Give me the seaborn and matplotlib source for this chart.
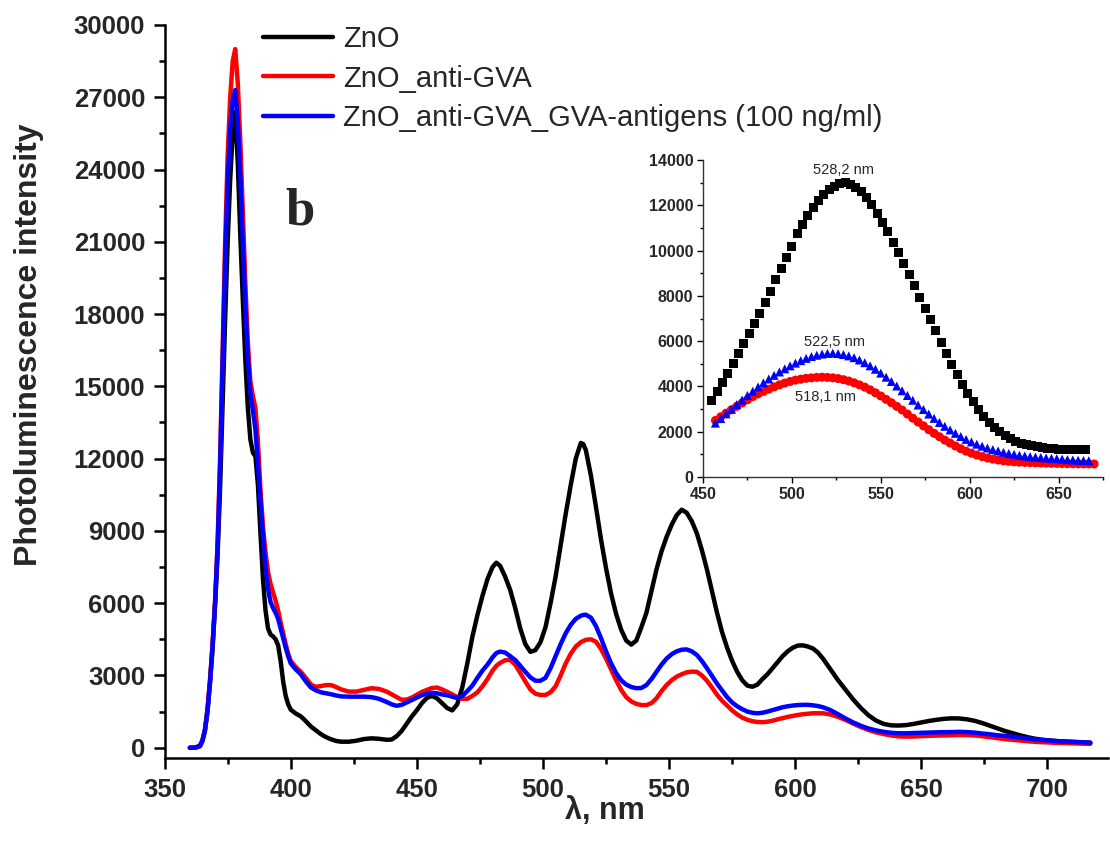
import numpy as np
import pandas as pd
import matplotlib
matplotlib.use("Agg")
import matplotlib.pyplot as plt
from matplotlib.ticker import MultipleLocator
import seaborn as sns

# ---- main spectra (wavelength grid, nm) ----
nm_grid = np.concatenate([
    [360, 362, 364, 365, 366, 367, 368, 369, 370, 371],
    np.arange(372, 400, 1),
    np.arange(400, 421, 2),
    np.arange(423, 439, 3),
    np.arange(440, 481, 2),
    [481.5, 483],
    np.arange(485, 514, 2),
    [515, 516, 517],
    np.arange(519, 612, 2),
    np.arange(614, 714, 3),
    [717],
])

zno = [0, 0, 60, 280, 720, 1500, 2700, 4100, 5900, 8000,
       10800, 14300, 17800, 21000, 23600, 25500, 26400, 24300, 21300, 18600,
       16100, 14100, 12800, 12250, 12100, 10900, 8900, 7000, 5700, 4950,
       4700, 4620, 4500, 4250, 3600, 2750, 2150, 1800,
       1580, 1420, 1300, 1100, 880, 720, 560, 440, 350, 280, 250,
       250, 290, 360, 390, 370, 330,
       340, 480, 700, 1000, 1300, 1560, 1850, 2070, 2150, 2050, 1850, 1650, 1550,
       1800, 2500, 3500, 4600, 5500, 6300, 7000, 7500,
       7680, 7550,
       7100, 6550, 5800, 4950, 4300, 3980, 4050, 4380, 5000, 6000, 7100, 8400,
       9700, 10900, 12000,
       12650, 12600, 12350,
       11300, 10000, 8650, 7450, 6400, 5550, 4900, 4450, 4280, 4450,
       5000, 5600, 6500, 7400, 8150, 8750, 9250, 9650, 9880, 9750,
       9400, 8900, 8200, 7400, 6500, 5600, 4800, 4150, 3600, 3150,
       2800, 2580, 2530, 2620, 2850, 3050, 3300, 3550, 3800, 4000,
       4150, 4240, 4250, 4200, 4120, 3950, 3700,
       3250, 2800, 2400, 2000, 1650, 1350, 1130, 990, 930, 920, 940, 990,
       1050, 1110, 1160, 1200, 1220, 1215, 1180, 1120, 1030, 920, 810, 700,
       610, 520, 440, 375, 330, 295, 275, 260, 248, 230,
       210]

zno_anti = [0, 0, 80, 300, 750, 1600, 2800, 4300, 6100, 8500,
            12000, 16500, 21000, 24600, 27000, 28500, 29000, 27600, 25200, 22300,
            19300, 16800, 15200, 14600, 14100, 12700, 10700, 9200, 8100, 7300,
            6800, 6450, 6100, 5700, 5200, 4750, 4300, 3900,
            3600, 3350, 3150, 2900, 2620, 2530, 2560, 2600, 2600, 2520, 2420,
            2330, 2330, 2400, 2470, 2440, 2330,
            2220, 2100, 1990, 2000, 2080, 2200, 2320, 2400, 2480, 2500, 2420,
            2320, 2220, 2100, 2030, 2030, 2150, 2300, 2550, 2850, 3200,
            3400, 3520,
            3630, 3650, 3450, 3100, 2750, 2420, 2240, 2190, 2190, 2300, 2550,
            3000, 3500, 3900, 4200,
            4380, 4430, 4480,
            4500, 4400, 4100, 3700, 3250, 2800, 2400, 2100, 1920, 1820,
            1770, 1770, 1850, 2050, 2350, 2600, 2800, 2950, 3050, 3130,
            3160, 3150, 3000, 2780, 2500, 2200, 1950, 1750, 1550, 1380,
            1250, 1160, 1100, 1070, 1060, 1080, 1120, 1180, 1230, 1280,
            1320, 1360, 1390, 1410, 1430, 1430, 1430,
            1380, 1280, 1150, 1000, 860, 740, 640, 570, 510, 470, 460, 465,
            480, 495, 505, 510, 520, 530, 525, 510, 480, 440, 400, 360,
            330, 300, 270, 245, 230, 215, 200, 190, 180, 170,
            160]

zno_gva = [0, 0, 80, 300, 740, 1550, 2750, 4200, 6000, 8300,
           11700, 16000, 20300, 23500, 25700, 26900, 27300, 26000, 23800, 21000,
           18400, 16200, 14700, 14000, 13200, 11800, 10200, 8800, 7500, 6600,
           6050, 5800, 5600, 5350, 4950, 4550, 4150, 3800,
           3500, 3250, 3050, 2750, 2500, 2380, 2300, 2260, 2220, 2170, 2130,
           2120, 2120, 2120, 2100, 2030, 1900,
           1800, 1740, 1780, 1880, 1980, 2080, 2180, 2250, 2280, 2260, 2210,
           2180, 2120, 2060, 2150, 2350, 2580, 2900, 3200, 3450, 3750,
           3930, 3990,
           3950, 3800, 3640, 3400, 3150, 2920, 2780, 2780, 2900, 3300, 3800,
           4300, 4750, 5100, 5350,
           5480, 5510, 5520,
           5400, 5050, 4550, 4000, 3500, 3100, 2800, 2620, 2520, 2470,
           2480, 2600, 2850, 3150, 3450, 3700, 3880, 4000, 4070, 4080,
           4000, 3850, 3600, 3300, 2980, 2660, 2380, 2100, 1880, 1720,
           1600, 1500, 1450, 1430, 1450, 1500, 1560, 1620, 1680, 1720,
           1750, 1770, 1780, 1780, 1760, 1730, 1680,
           1560, 1390, 1210, 1050, 910, 800, 720, 660, 620, 600, 600, 610,
           620, 630, 640, 645, 650, 660, 650, 630, 590, 560, 520, 490,
           460, 420, 380, 350, 320, 300, 270, 250, 240, 225,
           210]

# ---- inset: fitted green band ----
inset_nm_zno = np.arange(455, 666, 3)
inset_zno = [3370, 3760, 4160, 4580, 5010, 5450, 5890, 6330, 6780, 7240,
             7720, 8210, 8710, 9210, 9710, 10200, 10740, 11170, 11560, 11900,
             12200, 12460, 12680, 12850, 12960, 12990, 12930, 12800, 12600, 12340,
             12020, 11660, 11260, 10830, 10380, 9910, 9430, 8940, 8440, 7940,
             7440, 6940, 6450, 5960, 5450, 4980, 4520, 4090, 3690, 3320,
             2990, 2690, 2420, 2190, 1990, 1830, 1700, 1590, 1500, 1430,
             1370, 1330, 1290, 1265, 1250, 1235, 1225, 1215, 1205, 1200,
             1195]

inset_nm_anti = np.arange(457, 671, 3)
inset_anti = [2500, 2660, 2820, 2970, 3120, 3270, 3410, 3550, 3670, 3780,
              3880, 3980, 4070, 4150, 4220, 4280, 4320, 4360, 4380, 4400,
              4410, 4400, 4380, 4350, 4300, 4240, 4160, 4070, 3970, 3850,
              3720, 3580, 3430, 3280, 3120, 2960, 2780, 2600, 2430, 2260,
              2090, 1930, 1780, 1630, 1500, 1370, 1250, 1140, 1050, 970,
              900, 840, 790, 750, 715, 690, 670, 655, 645, 635,
              625, 618, 612, 606, 600, 595, 590, 586, 582, 579,
              577, 575]

inset_nm_gva = np.arange(457, 668, 3)
inset_gva = [2380, 2580, 2790, 2990, 3200, 3400, 3600, 3790, 3980, 4160,
             4330, 4490, 4640, 4780, 4910, 5030, 5140, 5240, 5320, 5380,
             5430, 5460, 5470, 5450, 5410, 5350, 5270, 5170, 5050, 4910,
             4760, 4590, 4410, 4220, 4020, 3810, 3600, 3390, 3180, 2980,
             2780, 2590, 2410, 2240, 2080, 1930, 1790, 1660, 1550, 1450,
             1360, 1280, 1210, 1150, 1090, 1040, 1000, 960, 930, 900,
             880, 860, 840, 825, 810, 790, 770, 755, 740, 730,
             720]

labels = ['ZnO', 'ZnO_anti-GVA', 'ZnO_anti-GVA_GVA-antigens (100 ng/ml)']
colors = ['#000000', '#ff0000', '#0000ff']
peak_labels = ['528,2 nm', '518,1 nm', '522,5 nm']

sns.set_theme(style='ticks')
plt.rcParams['font.family'] = ['Liberation Sans', 'DejaVu Sans']
plt.rcParams['font.weight'] = 'bold'

main_df = pd.concat([
    pd.DataFrame({'nm': nm_grid, 'pl': vals, 'sample': lab})
    for vals, lab in zip([zno, zno_anti, zno_gva], labels)
])
inset_df = pd.concat([
    pd.DataFrame({'nm': x, 'pl': y, 'sample': lab})
    for x, y, lab in zip([inset_nm_zno, inset_nm_anti, inset_nm_gva],
                         [inset_zno, inset_anti, inset_gva], labels)
])
palette = dict(zip(labels, colors))

fig = plt.figure(figsize=(11.1, 8.41), dpi=100)
ax = fig.add_axes([0.1483, 0.0983, 0.8499, 0.8720])

sns.lineplot(data=main_df, x='nm', y='pl', hue='sample', hue_order=labels,
             palette=palette, estimator=None, sort=False, lw=3.2, ax=ax)

ax.set_xlim(350, 724)
ax.set_ylim(-440, 30000)
ax.xaxis.set_major_locator(MultipleLocator(50))
ax.xaxis.set_minor_locator(MultipleLocator(25))
ax.yaxis.set_major_locator(MultipleLocator(3000))
ax.yaxis.set_minor_locator(MultipleLocator(1500))
ax.tick_params(which='major', direction='out', length=8, width=1.8,
               labelsize=18.5, pad=6, color='black')
ax.tick_params(which='minor', direction='out', length=4, width=1.8, color='black')
for s in ['top', 'right']:
    ax.spines[s].set_visible(False)
for s in ['left', 'bottom']:
    ax.spines[s].set_linewidth(1.8)
    ax.spines[s].set_color('black')

ax.set_xlabel('λ, nm', fontsize=22, fontweight='bold')
ax.set_ylabel('Photoluminescence intensity', fontsize=23, fontweight='bold')
ax.xaxis.set_label_coords(0.467, -0.052)
ax.yaxis.set_label_coords(-0.128, 0.564)

ax.text(403.6, 21700, 'b', fontsize=38, fontweight='bold',
        family='Liberation Serif', ha='center', va='baseline')

handles, _ = ax.get_legend_handles_labels()
for h in handles:
    h.set_linewidth(3.2)
ax.legend(handles, labels, loc='upper left',
          bbox_to_anchor=(263 / 1110, 1 - 25 / 841),
          bbox_transform=fig.transFigure, frameon=False,
          prop={'size': 21, 'weight': 'normal'}, handlelength=2.4,
          handletextpad=0.35, labelspacing=0.4, borderpad=0,
          borderaxespad=0)

# inset
axin = fig.add_axes([0.6333, 0.4328, 0.3604, 0.3769])
sns.scatterplot(data=inset_df, x='nm', y='pl', hue='sample', style='sample',
                hue_order=labels, palette=palette,
                markers={labels[0]: 's', labels[1]: 'o', labels[2]: '^'},
                s=42, linewidth=0, ax=axin, legend=False)
axin.set_xlim(450, 675)
axin.set_ylim(0, 14000)
axin.xaxis.set_major_locator(MultipleLocator(50))
axin.xaxis.set_minor_locator(MultipleLocator(25))
axin.yaxis.set_major_locator(MultipleLocator(2000))
axin.yaxis.set_minor_locator(MultipleLocator(1000))
axin.tick_params(which='major', direction='out', length=4, width=1,
                 labelsize=11.5, pad=3, color='black')
axin.tick_params(which='minor', direction='out', length=2.5, width=1, color='black')
axin.set_xlabel('')
axin.set_ylabel('')
axin.patch.set_alpha(0)
for s in ['top', 'right']:
    axin.spines[s].set_visible(False)
for s in ['left', 'bottom']:
    axin.spines[s].set_linewidth(1)
    axin.spines[s].set_color('#333333')

axin.text(529, 13560, peak_labels[0], fontsize=10.5, fontweight='normal',
          ha='center', va='center')
axin.text(518.7, 3530, peak_labels[1], fontsize=10.5, fontweight='normal',
          ha='center', va='center')
axin.text(523.8, 5960, peak_labels[2], fontsize=10.5, fontweight='normal',
          ha='center', va='center')

fig.savefig('out.png', dpi=100)
